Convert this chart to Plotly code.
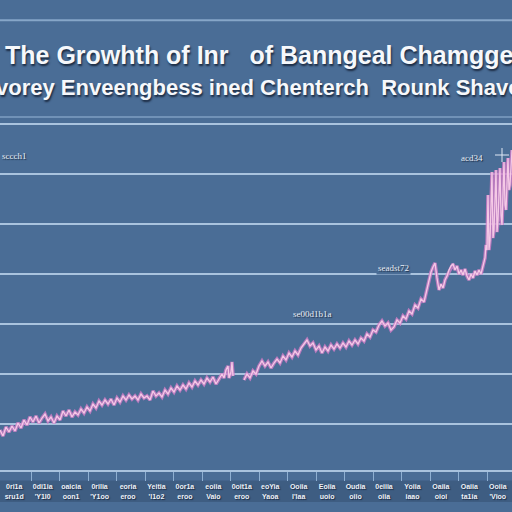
import plotly.graph_objects as go

# 数据：横轴为交易日序号，纵轴为指数值（None 表示断档）
days = [0, 3, 6, 9, 12, 15, 18, 21, 24, 27, 30, 33, 36, 39, 42, 45, 48, 51, 54, 57,
        60, 63, 66, 69, 72, 75, 78, 81, 84, 87, 90, 93, 96, 99, 102, 105, 108, 111, 114, 117,
        120, 123, 126, 129, 132, 135, 138, 141, 144, 147, 150, 153, 156, 159, 162, 165, 168, 171, 174, 177,
        180, 183, 186, 189, 192, 195, 198, 201, 204, 207, 210, 213, 216, 219, 222, 224, 226, 228, 229, 231,
        232, 233, 238,
        244, 247, 250, 253, 256, 259, 262, 265, 268, 271, 274, 277, 280, 283, 286, 289, 292, 295, 298, 301,
        304, 307, 310, 313, 316, 319, 322, 325, 328, 331, 334, 337, 340, 343, 346, 349, 352, 355, 358, 361,
        364, 367, 370, 373, 376, 379, 382, 385, 388, 391, 394, 397, 400, 403, 406, 409, 412, 415, 418, 421,
        424, 427, 429, 431, 433, 435, 437, 439, 441, 443, 445, 447, 449, 451, 453, 455, 457, 459, 461, 463,
        465, 467, 469, 471, 473, 475, 477, 479, 481, 483, 485, 486, 487, 488, 489, 490, 492, 493, 494, 496,
        497, 498, 500, 501, 502, 504, 505, 506, 508, 509, 510, 512]
values = [44, 38, 47, 42, 48, 43, 51, 46, 54, 49, 57, 52, 58, 51, 56, 60, 53, 57, 51, 58,
          54, 63, 58, 64, 57, 62, 59, 65, 61, 67, 63, 70, 66, 73, 69, 74, 70, 75, 69, 76,
          72, 78, 74, 79, 75, 78, 74, 80, 76, 78, 74, 83, 78, 81, 77, 84, 80, 86, 82, 88,
          84, 89, 85, 91, 87, 93, 89, 94, 90, 96, 92, 97, 90, 95, 100, 96, 104, 108, 96, 102,
          112, 98, None,
          94, 100, 96, 103, 100, 108, 113, 108, 112, 106, 111, 115, 111, 118, 114, 121, 117, 123, 119, 126,
          130, 134, 128, 131, 124, 128, 121, 127, 123, 129, 125, 130, 126, 131, 127, 133, 129, 134, 130, 136,
          133, 140, 137, 144, 142, 149, 153, 148, 151, 144, 147, 154, 151, 158, 155, 163, 160, 169, 166, 175,
          172, 186, 194, 202, 207, 211, 196, 184, 190, 186, 194, 198, 204, 208, 210, 204, 208, 200, 204, 199,
          205, 198, 194, 200, 196, 203, 199, 204, 200, 208, 216, 229, 224, 279, 224, 234, 302, 236, 244, 304,
          242, 254, 306, 259, 249, 312, 269, 264, 316, 284, 289, 324]

peak_day = [502]
peak_value = [319]

tick_labels = ["0ri1a<br>sru1d", "0di1ia<br>'Y1l0", "oaicia<br>oon1", "0rilia<br>'Y1oo",
               "eoria<br>eroo", "Yeitia<br>'l1o2", "0or1a<br>eroo", "eoiia<br>Vaio",
               "0oit1a<br>eroo", "eoYia<br>Yaoa", "Ooiia<br>l'laa", "Eoiia<br>uoio",
               "Oudia<br>oiio", "0eiiia<br>oiia", "Yoiia<br>iaao", "Oaiia<br>oioi",
               "Oaiia<br>ta1ia", "Ooiia<br>'Vioo"]

# 网格线旁的小标注
note_texts = ["sccch1", "se00d1b1a", "seadst72", "acd34"]
note_days = [0, 312, 393, 472]
note_values = [318, 160, 206, 316]

bg = "#4a6d96"
grid = "#a9c3de"

fig = go.Figure()
fig.add_trace(go.Scatter(x=days, y=values, mode="lines", connectgaps=False,
                         line=dict(color="rgba(210,125,200,0.8)", width=3.6)))
fig.add_trace(go.Scatter(x=days, y=values, mode="lines", connectgaps=False,
                         line=dict(color="#f5c9e6", width=1.3)))
fig.add_trace(go.Scatter(x=peak_day, y=peak_value, mode="markers",
                         marker=dict(symbol="cross-thin", size=10,
                                     line=dict(color="#dfe8f4", width=1))))

step = 512 / 18
fig.update_xaxes(range=[0, 512], showgrid=False, zeroline=False,
                 showline=True, linecolor=grid, linewidth=2,
                 tickvals=[step * (i + 0.5) for i in range(len(tick_labels))],
                 ticktext=tick_labels, ticks="", ticklabelstandoff=9,
                 tickfont=dict(family="Liberation Sans", size=7, color="#eef2f8",
                               weight="bold", shadow="1px 1px 1px #1d2c44"),
                 minor=dict(tickvals=[31 + 28.5 * i for i in range(17)], ticks="outside",
                            ticklen=9, tickcolor="#8fb0d2", tickwidth=1))
fig.update_yaxes(range=[4, 356], dtick=50, showgrid=True, gridcolor=grid, gridwidth=2,
                 zeroline=False, showticklabels=False, showline=False)

for t, d, v in zip(note_texts, note_days, note_values):
    fig.add_annotation(x=d, y=v, text=t, showarrow=False,
                       xanchor="left" if d == 0 else "center",
                       bgcolor=bg if t == "seadst72" else None,
                       font=dict(family="Liberation Serif", size=9, color="#e8eef6",
                                 shadow="1px 1px 1px #1d2c44"))

# 标题（两行）
title_font = dict(family="Liberation Sans", weight="bold", color="#f6f8fb",
                  shadow="1px 2px 2px #1a2940")
fig.add_annotation(xref="paper", yref="paper", x=0.006, y=1.179, xanchor="left", yanchor="middle",
                   text="The Growhth of Inr\u00a0\u00a0 of Banngeal Chamgge", showarrow=False,
                   font=dict(title_font, size=25))
fig.add_annotation(xref="paper", yref="paper", x=-0.012, y=1.088, xanchor="left", yanchor="middle",
                   text="vorey Enveengbess ined Chenterch\u00a0 Rounk Shavo", showarrow=False,
                   font=dict(title_font, size=22))

# 标题区的分隔线和刻度标签底纹
fig.add_shape(type="line", xref="paper", yref="paper", x0=0, x1=1, y0=1.278, y1=1.278,
              line=dict(color="#86a6c8", width=2))
fig.add_shape(type="line", xref="paper", yref="paper", x0=0, x1=1, y0=1.003, y1=1.003,
              line=dict(color="#7f9fc2", width=1.5))
fig.add_shape(type="rect", xref="paper", yref="paper", x0=0, x1=1, y0=-0.091, y1=-0.03,
              fillcolor="rgba(35,55,85,0.3)", line=dict(width=0), layer="below")

fig.update_layout(width=512, height=512, margin=dict(l=0, r=0, t=118, b=42),
                  paper_bgcolor=bg, plot_bgcolor=bg, showlegend=False)
fig.write_html("out.html", config={"displayModeBar": False},
               post_script="document.body.style.margin='0';")
